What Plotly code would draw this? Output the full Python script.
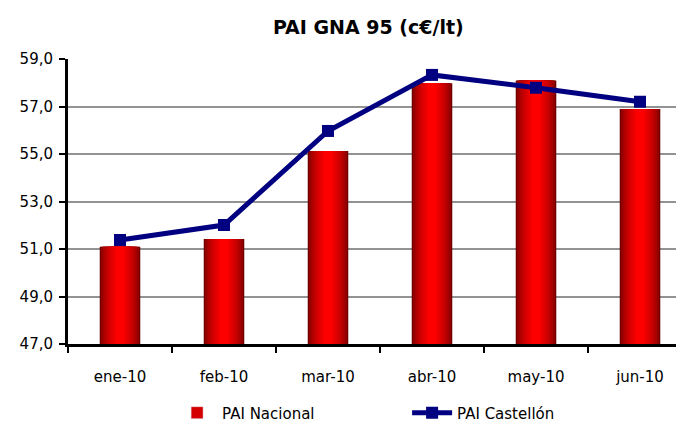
import plotly.graph_objects as go

months = ["ene-10", "feb-10", "mar-10", "abr-10", "may-10", "jun-10"]
pai_nacional = [51.10, 51.42, 55.13, 57.98, 58.10, 56.90]
pai_castellon = [51.38, 52.01, 55.97, 58.33, 57.79, 57.20]
y_ticks = [47, 49, 51, 53, 55, 57, 59]

fig = go.Figure()

# gradient bars: overlaid bars of decreasing width, dark edges to bright center
n_layers = 14
bar_w = 0.39
for i in range(n_layers):
    t = i / (n_layers - 1)
    r = int(0x70 + (0xff - 0x70) * (t ** 0.6))
    col = f"rgb({r},0,0)"
    w = bar_w * (1 - 0.9 * i / n_layers)
    fig.add_trace(go.Bar(
        x=months, y=pai_nacional, width=w, base=0,
        marker=dict(color=col, line=dict(width=0)),
        name="PAI Nacional", showlegend=False, hoverinfo="skip",
    ))

# legend entry for bars
fig.add_trace(go.Bar(
    x=[months[0]], y=[None], name="PAI Nacional",
    marker=dict(color="#d40000"), showlegend=True,
))

fig.add_trace(go.Scatter(
    x=months, y=pai_castellon, mode="lines+markers", name="PAI Castellón",
    line=dict(color="#000080", width=5),
    marker=dict(symbol="square", size=12, color="#000080"),
))

fig.update_layout(
    width=676, height=417,
    barmode="overlay",
    paper_bgcolor="white", plot_bgcolor="white",
    margin=dict(l=60, r=0, t=51, b=81, autoexpand=False),
    separators=",.",
    font=dict(family="DejaVu Sans, Arial, sans-serif", size=15, color="black"),
    title=dict(text="<b>PAI GNA 95 (c€/lt)</b>", x=0.533, xanchor="center",
               y=0.954, yanchor="middle", font=dict(size=19)),
    legend=dict(orientation="h", x=0.169, xanchor="left",
                yref="container", y=0.029, yanchor="middle",
                font=dict(size=15), itemwidth=40, entrywidth=180),
    xaxis=dict(
        type="category", range=[-0.5, 5.423],
        showline=True, linecolor="black", linewidth=3,
        ticks="outside", tickson="boundaries", ticklen=6, tickwidth=2, tickcolor="black",
        showgrid=False, ticklabelstandoff=17,
    ),
    yaxis=dict(
        range=[47, 59], tickvals=y_ticks, tickformat=".1f",
        showline=True, linecolor="black", linewidth=3,
        ticks="outside", ticklen=6, tickwidth=2, tickcolor="black",
        showgrid=True, gridcolor="#939393", gridwidth=2, zeroline=False,
        ticklabelstandoff=3,
    ),
)

fig.write_html("out.html")
